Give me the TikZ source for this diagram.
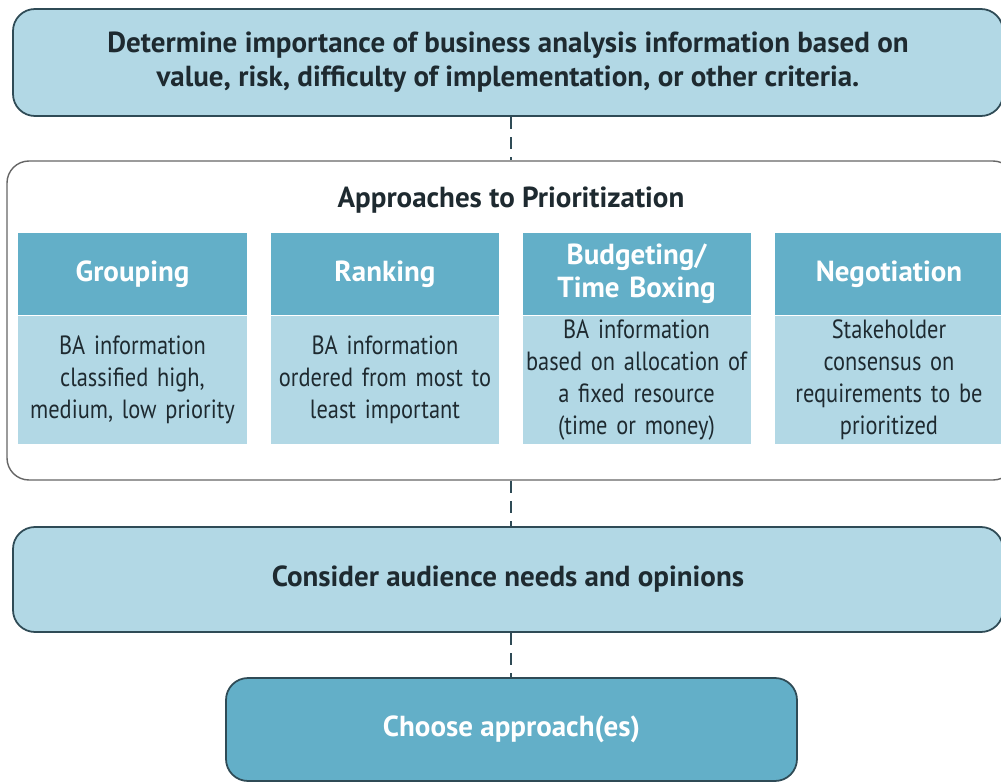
\documentclass[tikz,border=0pt]{standalone}
\usepackage{fontspec}
\setmainfont{PT Sans}
\newfontfamily\narrowfont[FakeStretch=0.85]{PT Sans}
\usepackage{tikz}
\usetikzlibrary{positioning}
\definecolor{lightblue}{HTML}{B2D8E5}
\definecolor{midblue}{HTML}{63AFC8}
\definecolor{edgecol}{HTML}{2F4B56}
\definecolor{textcol}{HTML}{1E2A30}

\begin{document}
\begin{tikzpicture}[
    stepbox/.style={draw=edgecol, line width=1pt, rounded corners=0.44cm, fill=lightblue,
      text=textcol, font=\fontsize{16.5}{19.5}\selectfont\bfseries, align=center},
    groupbox/.style={draw=gray!80!black, line width=0.8pt, rounded corners=0.44cm, fill=white},
    headbox/.style={fill=midblue, text=white, minimum width=4.56cm, minimum height=1.64cm,
      text width=4.56cm, font=\fontsize{16.5}{18.5}\selectfont\bfseries, align=center, inner sep=0pt},
    bodybox/.style={fill=lightblue, text=textcol, minimum width=4.56cm, minimum height=2.56cm,
      text width=4.56cm, font=\narrowfont\fontsize{15}{18.2}\selectfont, align=center, inner sep=0pt},
    conn/.style={draw=edgecol, line width=1pt, dash pattern=on 7pt off 4.5pt}
  ]
  \useasboundingbox (0,0) rectangle (20.02,-15.64);
  \clip (0,0) rectangle (20.02,-15.64);
  % boxes
  \node[stepbox, minimum width=19.8cm, minimum height=2.14cm] (top) at (10.16,-1.25)
    {Determine importance of business analysis information based on\\
     value, risk, difficulty of implementation, or other criteria.};
  \node[groupbox, minimum width=20.16cm, minimum height=6.38cm] (approaches) at (10.22,-6.41) {};
  \node[text=textcol, font=\fontsize{16.5}{19.5}\selectfont\bfseries] (title) at (10.22,-4.0)
    {Approaches to Prioritization};
  % columns
  \node[headbox] (grouphead) at (2.65,-5.48) {Grouping};
  \node[bodybox, below=0pt of grouphead] (groupbody)
    {BA information\\classified high,\\medium, low priority};
  \node[headbox] (rankhead) at (7.70,-5.48) {Ranking};
  \node[bodybox, below=0pt of rankhead] (rankbody)
    {BA information\\ordered from most to\\least important};
  \node[headbox] (budgethead) at (12.73,-5.48) {Budgeting/\\Time Boxing};
  \node[bodybox, below=0pt of budgethead] (budgetbody)
    {BA information\\based on allocation of\\a fixed resource\\(time or money)};
  \node[headbox] (negohead) at (17.78,-5.48) {Negotiation};
  \node[bodybox, below=0pt of negohead] (negobody)
    {Stakeholder\\consensus on\\requirements to be\\prioritized};
  \node[stepbox, minimum width=19.8cm, minimum height=2.1cm] (audience) at (10.16,-11.59)
    {Consider audience needs and opinions};
  \node[stepbox, fill=midblue, text=white, minimum width=11.42cm, minimum height=2.06cm]
    (choose) at (10.23,-14.59) {Choose approach(es)};
  % connectors
  \draw[conn] (top.south -| title) -- (approaches.north -| title);
  \draw[conn] (approaches.south -| title) -- (audience.north -| title);
  \draw[conn] (audience.south -| title) -- (choose.north -| title);
\end{tikzpicture}
\end{document}
